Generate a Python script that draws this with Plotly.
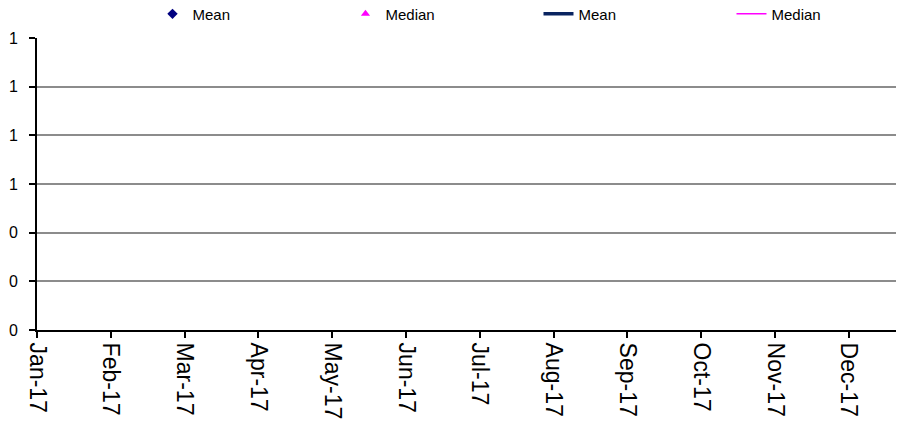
import plotly.graph_objects as go

months = ["Jan-17", "Feb-17", "Mar-17", "Apr-17", "May-17", "Jun-17",
          "Jul-17", "Aug-17", "Sep-17", "Oct-17", "Nov-17", "Dec-17"]
mean_points = [None] * 12
median_points = [None] * 12
mean_line = [None] * 12
median_line = [None] * 12
y_tickvals = [0, 0.2, 0.4, 0.6, 0.8, 1.0, 1.2]
y_ticktext = ["0", "0", "0", "1", "1", "1", "1"]

fig = go.Figure()
fig.add_trace(go.Scatter(x=months, y=mean_points, name="Mean", mode="markers",
                         marker=dict(symbol="diamond", color="#000080", size=8)))
fig.add_trace(go.Scatter(x=months, y=median_points, name="Median", mode="markers",
                         marker=dict(symbol="triangle-up", color="#FF00FF", size=8)))
fig.add_trace(go.Scatter(x=months, y=mean_line, name="Mean", mode="lines",
                         line=dict(color="#0A2460", width=3.5)))
fig.add_trace(go.Scatter(x=months, y=median_line, name="Median", mode="lines",
                         line=dict(color="#FF00FF", width=1.5)))

fig.update_layout(
    width=897, height=427,
    margin=dict(l=37, r=1, t=38, b=97, autoexpand=False),
    plot_bgcolor="white", paper_bgcolor="white",
    font=dict(family="Liberation Sans, Arial", color="black"),
    showlegend=True,
    legend=dict(orientation="h", xref="container", yref="container",
                x=0.170, y=0.967, xanchor="left", yanchor="middle",
                entrywidth=148, font=dict(size=15), bgcolor="rgba(0,0,0,0)"),
    xaxis=dict(type="category", categoryorder="array", categoryarray=months,
               range=[0, 11.64], showgrid=False, showline=True, linecolor="black",
               linewidth=2, ticks="outside", ticklen=6, tickwidth=2, tickcolor="black",
               tickangle=90, tickfont=dict(size=23), zeroline=False, automargin=False),
    yaxis=dict(range=[0, 1.2], tickvals=y_tickvals, ticktext=y_ticktext,
               showgrid=True, gridcolor="#8C8C8C", gridwidth=2,
               showline=True, linecolor="black", linewidth=2,
               ticks="outside", ticklen=6, tickwidth=2, tickcolor="black",
               ticklabelstandoff=8,
               tickfont=dict(size=16), zeroline=False, automargin=False),
)

fig.write_html("out.html", config={"displayModeBar": False},
               post_script="document.body.style.margin='0';document.body.style.overflow='hidden';")
